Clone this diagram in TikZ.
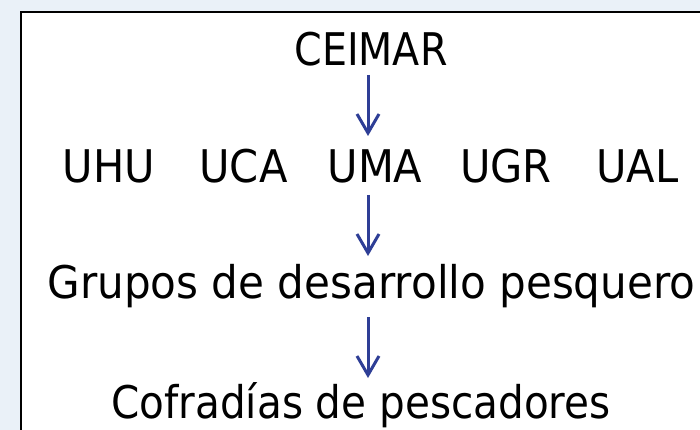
\documentclass[tikz,border=0pt]{standalone}
\usepackage{fontspec}
\setmainfont[FakeStretch=0.88]{DejaVu Sans}
\newfontfamily\fa[FakeStretch=0.88]{DejaVu Sans}
\newfontfamily\fb[FakeStretch=0.925]{DejaVu Sans}
\newfontfamily\fc[FakeStretch=0.935]{DejaVu Sans}
\newfontfamily\fd[FakeStretch=0.90]{DejaVu Sans}
\usetikzlibrary{arrows.meta}
\definecolor{bgblue}{HTML}{EAF1F8}
\definecolor{arrblue}{RGB}{46,62,150}
\tikzset{
  lbl/.style={anchor=base, inner sep=0pt, font=\fontsize{45}{54}\selectfont},
  conn/.style={draw=arrblue, line width=3pt, -{Straight Barb[length=19pt,width=22pt,line width=3pt]}}
}
\begin{document}
\begin{tikzpicture}[x=1pt,y=-1pt]
\useasboundingbox (0,0) rectangle (700,430);
\fill[bgblue] (0,0) rectangle (700,430);
\begin{scope}
\clip (0,0) rectangle (700,430);
\draw[line width=2pt, fill=white] (21,12) rectangle (710,440);
\end{scope}
\node[lbl] (ceimar) at (371,66) {\fa CEIMAR};
\node[lbl] (uhu) at (109,183) {\fb UHU};
\node[lbl] (uca) at (243.5,183) {\fb UCA};
\node[lbl] (uma) at (375,183) {\fb UMA};
\node[lbl] (ugr) at (506,183) {\fb UGR};
\node[lbl] (ual) at (637.5,183) {\fb UAL};
\node[lbl] (grupos) at (371.5,298) {\fc Grupos de desarrollo pesquero};
\node[lbl] (cofradias) at (361,418) {\fd Cofradías de pescadores};
\coordinate (a1s) at (368,75);
\coordinate (a1e) at (368,136);
\coordinate (a2s) at (368,195);
\coordinate (a2e) at (368,256);
\coordinate (a3s) at (368,317);
\coordinate (a3e) at (368,378);
\draw[conn] (a1s) -- (a1e);
\draw[conn] (a2s) -- (a2e);
\draw[conn] (a3s) -- (a3e);
\end{tikzpicture}
\end{document}
